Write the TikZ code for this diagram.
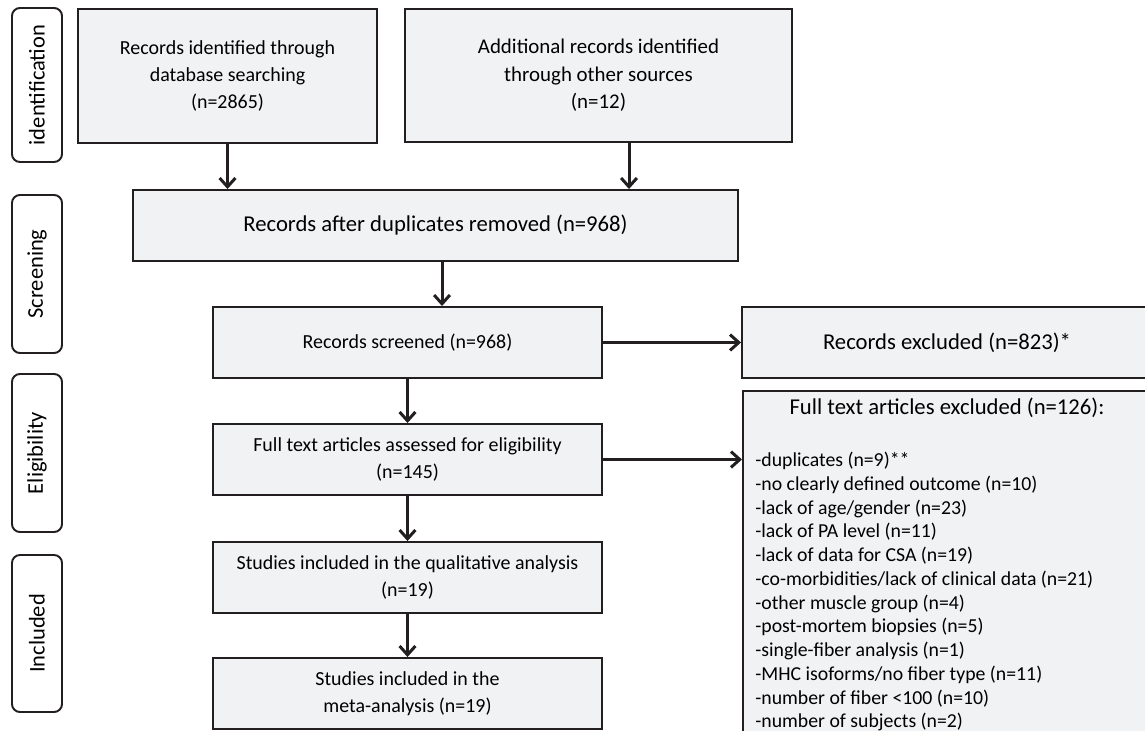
\documentclass[tikz,border=0pt]{standalone}
\usepackage{fontspec}
\setmainfont{Carlito}
\usetikzlibrary{arrows.meta}
\definecolor{boxfill}{HTML}{F1F2F4}
\definecolor{boxline}{HTML}{231F20}

\begin{document}
\begin{tikzpicture}[x=1cm,y=1cm,
    box/.style={draw=boxline,line width=1.1pt,fill=boxfill,inner sep=0pt,
      align=center,font=\fontsize{11.35}{15.6}\selectfont},
    big/.style={font=\fontsize{12.9}{15.6}\selectfont},
    stage/.style={draw=boxline,line width=1.1pt,rounded corners=4.5pt,
      minimum height=1cm,rotate=90,inner sep=0pt,
      font=\fontsize{12.8}{15}\selectfont},
    arr/.style={draw=boxline,line width=1.7pt,-{Straight Barb[length=5pt,width=9pt]}}]
  \useasboundingbox (0,0) rectangle (22.9,14.6);
  \clip (0,0) rectangle (22.9,14.6);

  % stages
  \node[stage,minimum width=3.08cm] (sid)  at (0.74,12.90) {identification};
  \node[stage,minimum width=3.16cm] (sscr) at (0.74,9.12)  {Screening};
  \node[stage,minimum width=3.16cm] (selg) at (0.74,5.54)  {Eligibility};
  \node[stage,minimum width=3.14cm] (sinc) at (0.74,1.93)  {Included};

  % main flow
  \node[box,minimum width=5.98cm,minimum height=2.68cm] (rid) at (4.55,13.08)
    {Records identified through\\database searching\\(n=2865)};
  \node[box,minimum width=7.74cm,minimum height=2.66cm,
    font=\fontsize{11.9}{15.6}\selectfont] (add) at (11.97,13.09)
    {Additional records identified\\through other sources\\(n=12)};
  \node[box,big,minimum width=12.1cm,minimum height=1.42cm] (dup) at (8.71,10.09)
    {Records after duplicates removed (n=968)};
  \node[box,minimum width=7.78cm,minimum height=1.42cm] (scr) at (8.15,7.75)
    {Records screened (n=968)};
  \node[box,minimum width=7.78cm,minimum height=1.42cm] (full) at (8.15,5.41)
    {Full text articles assessed for eligibility\\(n=145)};
  \node[box,minimum width=7.78cm,minimum height=1.42cm] (qual) at (8.15,3.05)
    {Studies included in the qualitative analysis\\(n=19)};
  \node[box,minimum width=7.78cm,minimum height=1.42cm] (meta) at (8.15,0.73)
    {Studies included in the\\meta-analysis (n=19)};

  % exclusions
  \node[box,big,minimum width=8.2cm,minimum height=1.42cm] (rexc) at (18.94,7.75)
    {Records excluded (n=823)*};
  \node[box,anchor=north west,minimum width=8.2cm,minimum height=8cm] (ftx) at (14.84,6.8) {};
  \node[big] (ftxhead) at (18.94,6.44)
    {Full text articles excluded (n=126):};
  \node[anchor=north west,inner sep=0pt,align=left,
    font=\fontsize{11.25}{13.5}\selectfont] (ftxlist) at (15.10,5.56)
    {-duplicates (n=9)**\\
     -no clearly defined outcome (n=10)\\
     -lack of age/gender (n=23)\\
     -lack of PA level (n=11)\\
     -lack of data for CSA (n=19)\\
     -co-morbidities/lack of clinical data (n=21)\\
     -other muscle group (n=4)\\
     -post-mortem biopsies (n=5)\\
     -single-fiber analysis (n=1)\\
     -MHC isoforms/no fiber type (n=11)\\
     -number of fiber <100 (n=10)\\
     -number of subjects (n=2)};

  % arrows
  \coordinate (a2) at (12.58,0);
  \coordinate (a3) at (8.84,0);
  \draw[arr] (rid.south) -- (rid.south |- dup.north);
  \draw[arr] (a2 |- add.south) -- (a2 |- dup.north);
  \draw[arr] (a3 |- dup.south) -- (a3 |- scr.north);
  \draw[arr] (scr) -- (full);
  \draw[arr] (full) -- (qual);
  \draw[arr] (qual) -- (meta);
  \draw[arr] (scr) -- (rexc);
  \draw[arr] (full.east) -- (full.east -| ftx.west);
\end{tikzpicture}
\end{document}
